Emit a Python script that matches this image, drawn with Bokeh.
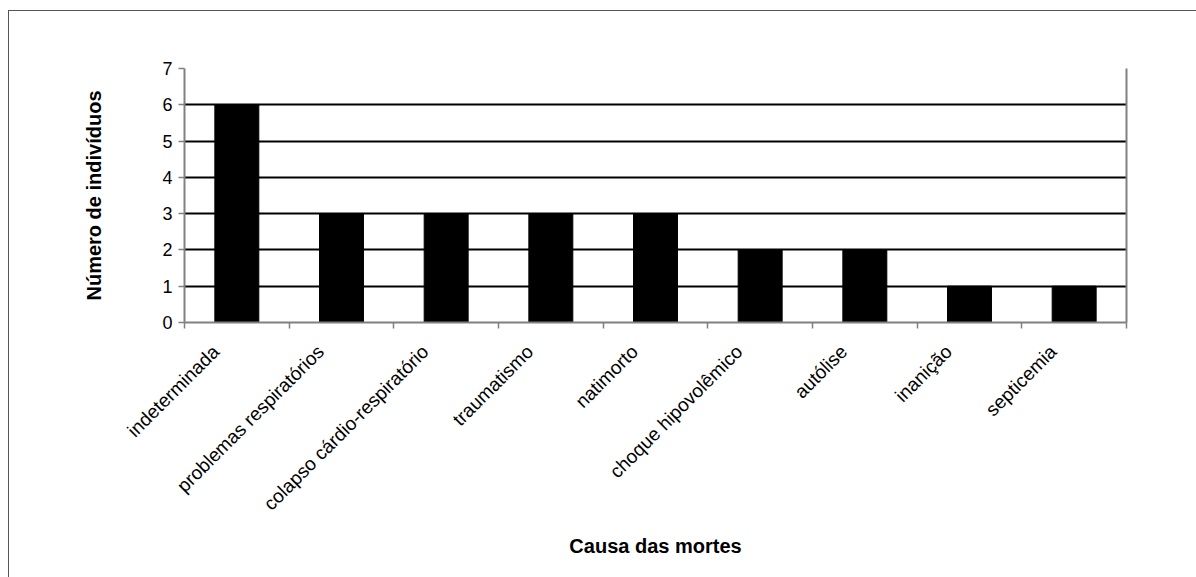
import math
from bokeh.plotting import figure
from bokeh.models import Range1d, FixedTicker, LinearAxis, CustomJSTickFormatter, ColumnDataSource
from bokeh.embed import file_html
from bokeh.resources import INLINE

categories = ["indeterminada", "problemas respiratórios", "colapso cárdio-respiratório",
              "traumatismo", "natimorto", "choque hipovolêmico", "autólise", "inanição", "septicemia"]
values = [6, 3, 3, 3, 3, 2, 2, 1, 1]
y_ticks = [0, 1, 2, 3, 4, 5, 6, 7]

FONT = "Liberation Sans"
GRAY = "#808080"

n = len(categories)
xs = [i + 0.5 for i in range(n)]
label_ticks = [i + 0.3 for i in range(n)]
src = ColumnDataSource(dict(x=xs, top=values, cat=categories))

p = figure(width=1188, height=567, x_range=Range1d(0, n), y_range=Range1d(0, max(y_ticks)),
           output_backend="svg", toolbar_location=None,
           min_border_left=175, min_border_right=71, min_border_top=57, min_border_bottom=256)
p.styles = {"border-top": "1px solid #555555", "border-left": "1px solid #555555",
            "margin-left": "8px", "margin-top": "10px"}
p.outline_line_color = None
p.background_fill_color = "white"
p.border_fill_color = "white"

p.vbar(x="x", top="top", width=0.42, source=src, fill_color="black", line_color="black")

# y axis
p.yaxis.ticker = FixedTicker(ticks=y_ticks)
p.yaxis.axis_line_color = GRAY
p.yaxis.axis_line_width = 2
p.yaxis.major_tick_in = 0
p.yaxis.major_tick_out = 6
p.yaxis.major_tick_line_color = GRAY
p.yaxis.major_tick_line_width = 1.5
p.yaxis.minor_tick_line_color = None
p.yaxis.major_label_text_font = FONT
p.yaxis.major_label_text_font_size = "18px"
p.yaxis.major_label_text_color = "black"
p.yaxis.major_label_standoff = 6
p.yaxis.axis_label = "Número de indivíduos"
p.yaxis.axis_label_text_font = FONT
p.yaxis.axis_label_text_font_size = "20px"
p.yaxis.axis_label_text_font_style = "bold"
p.yaxis.axis_label_text_color = "black"
p.yaxis.axis_label_standoff = 54

# x axis
p.xaxis.ticker = FixedTicker(ticks=label_ticks, minor_ticks=list(range(n + 1)))
p.xaxis.formatter = CustomJSTickFormatter(args=dict(labels=categories),
                                          code="const i = Math.floor(tick); return labels[i] || '';")
p.xaxis.axis_line_color = GRAY
p.xaxis.axis_line_width = 2
p.xaxis.major_tick_line_color = None
p.xaxis.minor_tick_in = 0
p.xaxis.minor_tick_out = 6
p.xaxis.minor_tick_line_color = GRAY
p.xaxis.minor_tick_line_width = 1.5
p.xaxis.major_label_orientation = math.pi / 4
p.xaxis.major_label_text_font = FONT
p.xaxis.major_label_text_font_size = "19px"
p.xaxis.major_label_text_color = "black"
p.xaxis.major_label_standoff = 20
p.xaxis.axis_label = "Causa das mortes"
p.xaxis.axis_label_text_font = FONT
p.xaxis.axis_label_text_font_size = "20px"
p.xaxis.axis_label_text_font_style = "bold"
p.xaxis.axis_label_text_color = "black"
p.xaxis.axis_label_standoff = 10

# right border of plot area
right = LinearAxis(ticker=FixedTicker(ticks=[]), axis_line_color=GRAY, axis_line_width=2,
                   major_tick_line_color=None, minor_tick_line_color=None,
                   major_label_text_font_size="0px")
p.add_layout(right, "right")

# grid
p.xgrid.visible = False
p.ygrid.ticker = FixedTicker(ticks=y_ticks)
p.ygrid.grid_line_color = "black"
p.ygrid.grid_line_width = 2

open("out.html", "w").write(file_html(p, INLINE))
